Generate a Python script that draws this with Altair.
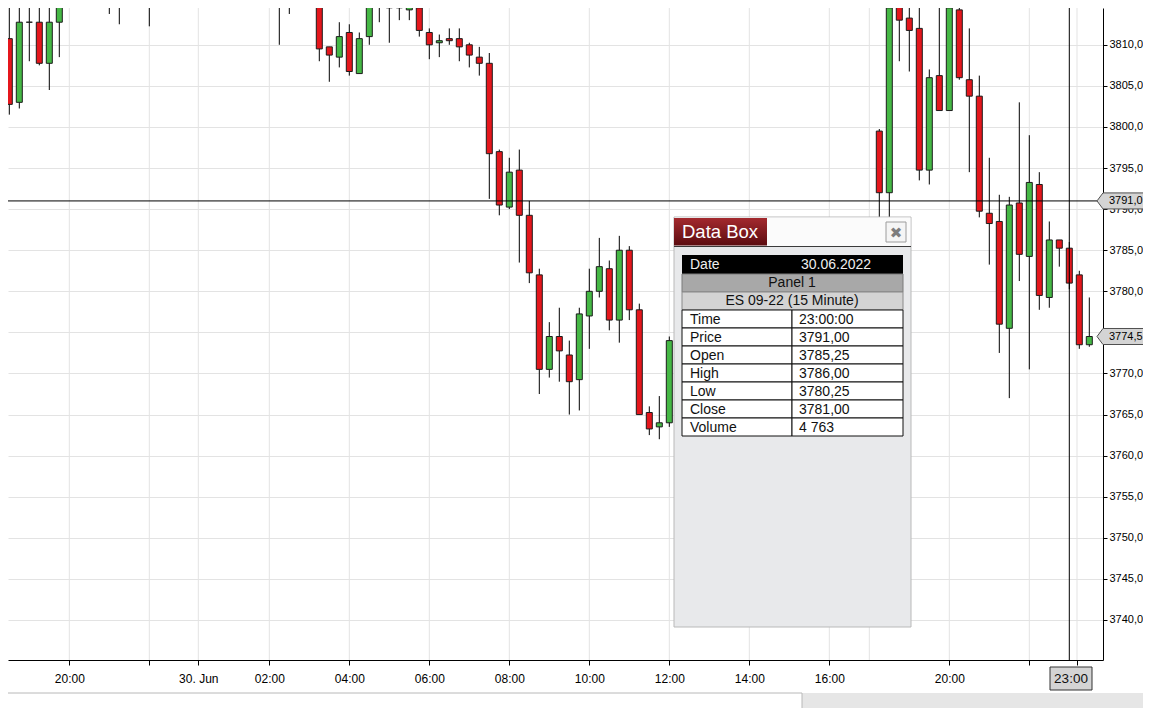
import altair as alt
import pandas as pd

FONT = "Liberation Sans"

# ---------------- candle data (bar index, OHLC) ----------------
bar_idx = [0, 1, 2, 3, 4, 5, 10, 11, 14, 25, 27, 28, 29, 30,
           31, 32, 33, 34, 35, 36, 37, 38, 39, 40, 41, 42, 43, 44, 45, 46, 47,
           48, 49, 50, 51, 52, 53, 54, 55, 56, 57, 58, 59, 60, 61, 62, 63, 64, 65, 66,
           87, 88, 89, 90, 91, 92, 93, 94, 95, 96, 97, 98, 99, 100, 101, 102, 103,
           104, 105, 106, 107, 108]
opens = [3810.75, 3803.0, 3812.75, 3812.75, 3807.75, 3812.75, 3819.0, 3818.0, 3819.0, 3819.0, 3818.0, 3819.0, 3818.0, 3819.0,
         3818.5, 3809.75, 3808.5, 3811.5, 3806.5, 3811.0, 3815.75, 3814.75, 3814.75, 3814.25, 3814.5, 3811.5, 3810.25, 3810.75, 3810.75, 3810.0, 3808.5,
         3807.75, 3797.0, 3790.25, 3794.75, 3789.25, 3782.0, 3770.5, 3774.5, 3772.25, 3769.25, 3777.0, 3780.0, 3782.75, 3776.5, 3785.0, 3777.75, 3765.25, 3763.5, 3764.0,
         3799.5, 3792.0, 3814.75, 3813.25, 3812.0, 3794.75, 3806.25, 3802.0, 3814.25, 3805.75, 3803.75, 3789.5, 3788.5, 3775.5, 3790.75, 3784.25, 3793.0,
         3779.25, 3786.25, 3785.25, 3782.0, 3773.5]
highs = [3816.5, 3816.0, 3817.0, 3816.5, 3814.75, 3819.0, 3821.0, 3820.0, 3821.0, 3820.0, 3820.0, 3821.0, 3820.0, 3821.0,
         3819.0, 3809.75, 3812.75, 3812.5, 3811.5, 3816.5, 3816.5, 3816.5, 3816.0, 3816.0, 3814.75, 3812.0, 3811.25, 3812.0, 3812.0, 3810.25, 3809.75,
         3809.0, 3797.25, 3796.25, 3797.25, 3791.0, 3782.75, 3776.25, 3778.0, 3774.0, 3778.0, 3782.75, 3786.5, 3783.75, 3786.75, 3785.5, 3778.5, 3766.0, 3767.25, 3774.5,
         3799.75, 3814.75, 3816.5, 3816.5, 3816.0, 3807.0, 3816.0, 3816.5, 3816.5, 3812.0, 3806.25, 3796.25, 3791.75, 3791.5, 3803.0, 3799.0, 3794.5,
         3788.5, 3786.25, 3786.0, 3782.5, 3779.25]
lows = [3801.5, 3802.25, 3808.0, 3807.5, 3804.5, 3808.5, 3813.75, 3812.5, 3812.25, 3815.25, 3810.0, 3813.75, 3815.25, 3815.25,
        3808.0, 3805.5, 3807.25, 3806.25, 3806.5, 3810.0, 3812.75, 3810.25, 3813.0, 3813.0, 3811.0, 3808.25, 3808.5, 3810.0, 3808.0, 3807.25, 3806.25,
        3791.25, 3789.25, 3790.0, 3783.5, 3781.0, 3767.5, 3769.5, 3769.0, 3765.0, 3765.5, 3773.0, 3779.25, 3775.25, 3773.75, 3776.5, 3765.0, 3762.5, 3762.0, 3763.5,
        3787.5, 3788.0, 3808.0, 3806.75, 3793.5, 3793.0, 3802.0, 3802.0, 3805.75, 3794.5, 3789.0, 3783.25, 3772.5, 3767.0, 3781.25, 3770.5, 3777.75,
        3778.0, 3783.0, 3780.25, 3773.0, 3773.25]
closes = [3802.75, 3812.75, 3812.75, 3807.75, 3812.75, 3818.0, 3818.0, 3819.0, 3818.5, 3818.0, 3819.0, 3818.0, 3819.0, 3818.5,
          3809.5, 3808.75, 3811.0, 3806.75, 3810.75, 3815.25, 3814.75, 3814.5, 3814.5, 3814.75, 3811.75, 3810.0, 3810.5, 3810.5, 3809.75, 3808.75, 3807.75,
          3796.75, 3790.5, 3794.5, 3789.25, 3782.25, 3770.5, 3774.5, 3772.75, 3769.0, 3777.25, 3780.0, 3783.0, 3776.5, 3785.0, 3777.75, 3765.0, 3763.25, 3764.0, 3774.0,
          3792.0, 3814.5, 3813.0, 3811.75, 3794.75, 3806.0, 3802.0, 3814.5, 3806.0, 3803.75, 3789.75, 3788.25, 3776.0, 3790.5, 3784.5, 3793.25, 3779.5,
          3786.25, 3785.25, 3781.0, 3773.5, 3774.5]

# ---------------- axes ----------------
tick_pos = [6, 14, 18.9, 26, 34, 42, 50, 58, 66, 74, 82, 94, 102, 106.77]
tick_lab = ["20:00", "", "30. Jun", "02:00", "04:00", "06:00", "08:00", "10:00",
            "12:00", "14:00", "16:00", "20:00", "", ""]
grid_pos = [6, 14, 18.9, 26, 34, 42, 50, 58, 66, 74, 82, 86, 94, 102, 106.77]
price_ticks = [3740, 3745, 3750, 3755, 3760, 3765, 3770, 3775, 3780, 3785,
               3790, 3795, 3800, 3805, 3810, 3815]

# ---------------- crosshair / labels ----------------
cross_bar = [106]
cross_price = [3791.0]
tag_prices = [3791.0, 3774.5]
tag_texts = ["3791,0", "3774,5"]
cross_time = "23:00"

# ---------------- data box ----------------
box_title = "Data Box"
box_date = ["Date", "30.06.2022"]
box_panel = "Panel 1"
box_series = "ES 09-22 (15 Minute)"
box_fields = ["Time", "Price", "Open", "High", "Low", "Close", "Volume"]
box_values = ["23:00:00", "3791,00", "3785,25", "3786,00", "3780,25", "3781,00", "4 763"]

W, H = 1095, 652
RED, GREEN = "#e5161c", "#45b845"

candles = pd.DataFrame({"bar": bar_idx, "open": opens, "high": highs,
                        "low": lows, "close": closes})
candles["dir"] = ["up" if c > o else "down" for o, c in zip(opens, closes)]

xs = alt.Scale(domain=[-0.13, 109.37], nice=False, zero=False, padding=0)
ys = alt.Scale(domain=[3735.13, 3814.48], nice=False, zero=False, padding=0)

label_expr = " : ".join(f"datum.value == {p} ? '{l}'" for p, l in zip(tick_pos, tick_lab)) + " : ''"
xaxis = alt.Axis(title=None, values=tick_pos, labelExpr=label_expr, grid=False,
                 domainColor="black", tickColor="black", tickSize=5,
                 labelFontSize=12, labelColor="black", labelFont=FONT,
                 labelPadding=8, labelOverlap=False, labelFlush=False, labelBound=False)
yaxis = alt.Axis(title=None, orient="right", values=price_ticks,
                 labelExpr="replace(format(datum.value, '.1f'), '.', ',')",
                 grid=True, gridColor="#e3e3e3", domainColor="black", tickColor="black",
                 tickSize=4, labelPadding=2, labelFontSize=11, labelColor="black",
                 labelFont=FONT, labelOverlap=False, labelFlush=False, labelBound=False)

X = alt.X("bar:Q", scale=xs, axis=xaxis)

grid = alt.Chart(pd.DataFrame({"bar": grid_pos})).mark_rule(
    color="#e3e3e3", strokeWidth=1).encode(x=X, y=alt.value(0), y2=alt.value(H))

wicks = alt.Chart(candles).mark_rule(color="black", strokeWidth=1, clip=True).encode(
    x=X, y=alt.Y("low:Q", scale=ys, axis=yaxis), y2="high:Q")

bodies = alt.Chart(candles).mark_bar(size=6, stroke="#1c1c1c", strokeWidth=1, clip=True).encode(
    x=X, y=alt.Y("open:Q", scale=ys, axis=yaxis), y2="close:Q",
    color=alt.Color("dir:N", scale=alt.Scale(domain=["up", "down"], range=[GREEN, RED]), legend=None))

hline = alt.Chart(pd.DataFrame({"price": cross_price})).mark_rule(color="black", strokeWidth=1).encode(
    y=alt.Y("price:Q", scale=ys, axis=yaxis), x=alt.value(0), x2=alt.value(1089))
vline = alt.Chart(pd.DataFrame({"bar": cross_bar})).mark_rule(color="black", strokeWidth=1).encode(
    x=X, y=alt.value(0), y2=alt.value(H))

one = pd.DataFrame({"k": [0]})


def rect(x1, y1, x2, y2, fill, stroke=None, sw=1):
    kw = dict(fill=fill)
    if stroke is not None:
        kw.update(stroke=stroke, strokeWidth=sw)
    else:
        kw.update(strokeWidth=0)
    return alt.Chart(one).mark_rect(**kw).encode(
        x=alt.value(x1), x2=alt.value(x2), y=alt.value(y1), y2=alt.value(y2))


def text(x, y, s, size=14, color="black", align="left", font=FONT, weight="normal"):
    return alt.Chart(one).mark_text(align=align, baseline="middle", fontSize=size,
                                    color=color, font=font, fontWeight=weight).encode(
        x=alt.value(x), y=alt.value(y), text=alt.value(s))


grad = alt.LinearGradient(gradient="linear",
                          stops=[alt.GradientStop(color="#a3292e", offset=0),
                                 alt.GradientStop(color="#5c0c10", offset=1)],
                          x1=0, x2=0, y1=0, y2=1)

box_layers = [
    rect(666, 209, 903, 619, "#e8e9eb", "#b9b9b9"),
    rect(666.5, 209.5, 902.5, 238, "#fbfbfb"),
    alt.Chart(one).mark_rule(color="#3a3a3a", strokeWidth=1).encode(
        x=alt.value(666), x2=alt.value(903), y=alt.value(238.5)),
    alt.Chart(one).mark_rect(fill=grad, strokeWidth=0).encode(
        x=alt.value(666), x2=alt.value(759), y=alt.value(210), y2=alt.value(237.5)),
    text(674, 224, box_title, size=18.5, color="white"),
    rect(878, 214, 898, 234, "#f5f5f5", "#9c9c9c"),
    text(888, 224.5, "✖", size=15, color="#7d7d7d", align="center", font="DejaVu Sans"),
    rect(674, 247, 895, 266, "black"),
    text(682, 256.5, box_date[0], color="#eeeeee"),
    text(793, 256.5, box_date[1], color="#eeeeee"),
    rect(674, 266, 895, 284, "#a8a8a8", "#7a7a7a"),
    text(784, 275, box_panel, align="center", color="#111111"),
    rect(674, 284, 895, 302, "#d3d3d3", "#8a8a8a"),
    text(784, 293, box_series, align="center", color="#111111"),
]
for i, (f, v) in enumerate(zip(box_fields, box_values)):
    y1 = 302 + 18 * i
    box_layers += [
        rect(674, y1, 784, y1 + 18, "white", "#111111"),
        rect(784, y1, 895, y1 + 18, "white", "#111111"),
        text(682, y1 + 9.5, f, color="#111111"),
        text(791, y1 + 9.5, v, color="#111111"),
    ]

# price tags on the right axis (arrow-shaped boxes)
tag_shape = "M -1 0 L -0.786 -0.286 L 1 -0.286 L 1 0.286 L -0.786 0.286 Z"
tags_df = pd.DataFrame({"price": tag_prices, "txt": tag_texts})
tag_boxes = alt.Chart(tags_df).mark_point(shape=tag_shape, size=3136, filled=True,
                                          fill="#d4d4d4", stroke="#505050", strokeWidth=1,
                                          opacity=1).encode(
    y=alt.Y("price:Q", scale=ys, axis=yaxis), x=alt.value(1117))
tag_text = alt.Chart(tags_df).mark_text(align="left", baseline="middle", fontSize=11,
                                        font=FONT, color="black").encode(
    y=alt.Y("price:Q", scale=ys, axis=yaxis), x=alt.value(1101), text="txt:N")

time_tag = [rect(1042, 659, 1084, 682, "#d4d4d4", "#333333"),
            text(1063, 671, cross_time, size=13.5, align="center", color="#111111")]

scroll = [rect(0, 685, 1135, 704, "#e6e6e6"),
          rect(-2, 685, 794, 703, "white", "#b8b8b8")]

chart = alt.layer(grid, wicks, bodies, hline, vline, *box_layers, tag_boxes, tag_text,
                  *time_tag, *scroll).properties(
    width=W, height=H,
    autosize=alt.AutoSizeParams(type="none"),
    padding={"left": 0, "top": 0, "right": 40, "bottom": 48},
    background="white",
).configure_view(strokeWidth=0)

chart.save("out.html", embed_options={"renderer": "svg", "actions": False})
